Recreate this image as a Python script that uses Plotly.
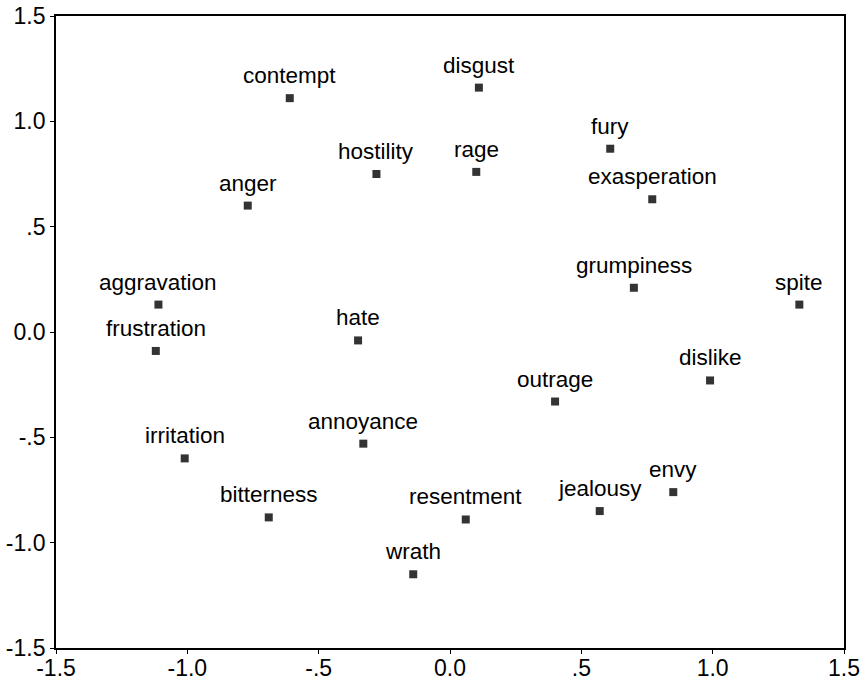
import plotly.graph_objects as go

# Two-dimensional scaling solution for anger-related emotion terms
terms = ["contempt", "disgust", "fury", "hostility", "rage", "exasperation",
         "anger", "aggravation", "grumpiness", "spite", "frustration", "hate",
         "dislike", "outrage", "annoyance", "irritation", "bitterness",
         "resentment", "jealousy", "envy", "wrath"]
dim1 = [-0.61, 0.11, 0.61, -0.28, 0.10, 0.77,
        -0.77, -1.11, 0.70, 1.33, -1.12, -0.35,
        0.99, 0.40, -0.33, -1.01, -0.69,
        0.06, 0.57, 0.85, -0.14]
dim2 = [1.11, 1.16, 0.87, 0.75, 0.76, 0.63,
        0.60, 0.13, 0.21, 0.13, -0.09, -0.04,
        -0.23, -0.33, -0.53, -0.60, -0.88,
        -0.89, -0.85, -0.76, -1.15]

tick_vals = [-1.5, -1.0, -0.5, 0.0, 0.5, 1.0, 1.5]
tick_text = ["-1.5", "-1.0", "-.5", "0.0", ".5", "1.0", "1.5"]

FONT = "Liberation Sans, Arial, sans-serif"

fig = go.Figure(
    go.Scatter(
        x=dim1, y=dim2, text=terms,
        mode="markers",
        marker=dict(symbol="square", size=8, color="#333333"),
        cliponaxis=False,
        hoverinfo="text",
    )
)

# term labels sit centred just above each point
for name, xv, yv in zip(terms, dim1, dim2):
    fig.add_annotation(
        x=xv, y=yv, text=name, showarrow=False,
        xanchor="center", yanchor="bottom", yshift=8,
        font=dict(family=FONT, size=22.5, color="#000000"),
    )

axis_common = dict(
    range=[-1.5, 1.5],
    tickmode="array",
    tickvals=tick_vals,
    ticktext=tick_text,
    ticks="outside",
    ticklen=4,
    tickwidth=1.2,
    tickcolor="#000000",
    showline=True,
    linecolor="#000000",
    linewidth=1.8,
    mirror=True,
    showgrid=False,
    zeroline=False,
    automargin=False,
    tickfont=dict(family=FONT, size=23, color="#000000"),
)

fig.update_xaxes(**axis_common, ticklabelstandoff=-6)
fig.update_yaxes(**axis_common, ticklabelstandoff=0)

fig.update_layout(
    width=866,
    height=682,
    margin=dict(l=56, r=22, t=16, b=34, autoexpand=False),
    plot_bgcolor="#ffffff",
    paper_bgcolor="#ffffff",
    showlegend=False,
)

fig.write_html("out.html")
